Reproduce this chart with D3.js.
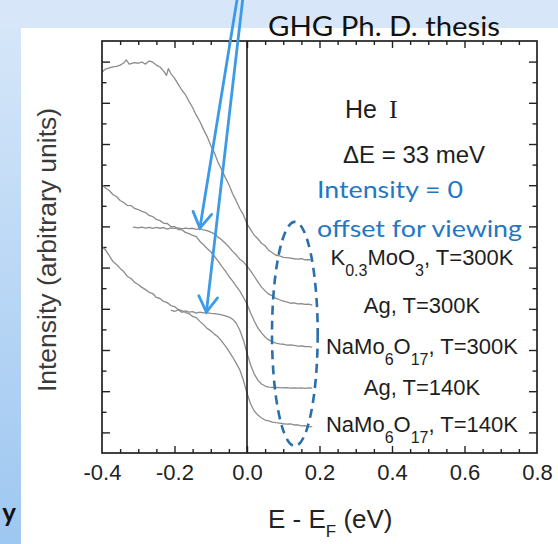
<!DOCTYPE html>
<html><head><meta charset="utf-8">
<script src="https://cdn.jsdelivr.net/npm/d3@7"></script>
<style>body{margin:0;background:#fff;} svg{display:block;}</style>
</head><body>
<svg id="c" width="558" height="544"></svg>
<script>
// ---- data ----
const xTicks = [-0.4, -0.2, 0.0, 0.2, 0.4, 0.6, 0.8];
const xTickLabels = ["-0.4", "-0.2", "0.0", "0.2", "0.4", "0.6", "0.8"];
const yMajorTicks = [1, 3, 5, 7, 9, 11, 13, 15, 17, 19];
const yMinorTicks = [2, 4, 6, 8, 10, 12, 14, 16, 18];

// E - EF (eV), intensity (arb. units, offset)
const k03MoO3_300K = [[-0.40,18.50],[-0.39,18.64],[-0.38,18.69],[-0.37,18.74],[-0.36,18.77],[-0.35,18.83],[-0.34,18.93],[-0.333,19.08],[-0.325,18.88],[-0.31,18.95],[-0.30,18.92],[-0.29,18.98],[-0.28,18.88],[-0.27,19.03],[-0.26,18.97],[-0.25,18.83],[-0.24,18.74],[-0.23,18.54],[-0.222,18.33],[-0.217,18.66],[-0.21,18.42],[-0.20,18.20],[-0.19,17.91],[-0.18,17.62],[-0.17,17.40],[-0.16,17.07],[-0.15,16.77],[-0.14,16.40],[-0.13,16.09],[-0.12,15.71],[-0.11,15.36],[-0.10,14.93],[-0.09,14.58],[-0.08,14.11],[-0.07,13.76],[-0.06,13.38],[-0.05,13.03],[-0.04,12.60],[-0.03,12.25],[-0.02,11.87],[-0.01,11.57],[0.00,11.12],[0.01,10.84],[0.02,10.57],[0.03,10.40],[0.04,10.18],[0.05,10.06],[0.06,9.84],[0.07,9.72],[0.08,9.60],[0.09,9.57],[0.10,9.50],[0.11,9.48],[0.12,9.46],[0.13,9.43],[0.14,9.41],[0.15,9.43],[0.16,9.38],[0.17,9.39],[0.18,9.36]];
const ag_300K = [[-0.315,10.97],[-0.30,10.93],[-0.29,10.97],[-0.28,10.92],[-0.27,10.95],[-0.26,10.90],[-0.25,10.95],[-0.24,10.91],[-0.23,10.94],[-0.22,10.87],[-0.21,10.93],[-0.20,10.90],[-0.19,10.93],[-0.18,10.88],[-0.17,10.92],[-0.16,10.89],[-0.15,10.91],[-0.14,10.86],[-0.13,10.89],[-0.12,10.83],[-0.11,10.79],[-0.10,10.72],[-0.09,10.64],[-0.08,10.48],[-0.07,10.35],[-0.06,10.18],[-0.05,10.01],[-0.04,9.80],[-0.03,9.62],[-0.02,9.41],[-0.01,9.28],[0.00,9.07],[0.01,8.84],[0.02,8.58],[0.03,8.31],[0.04,8.05],[0.05,7.87],[0.06,7.71],[0.07,7.63],[0.08,7.51],[0.09,7.44],[0.10,7.37],[0.11,7.34],[0.12,7.27],[0.13,7.29],[0.14,7.24],[0.15,7.25],[0.16,7.21],[0.17,7.23],[0.18,7.18]];
const naMo6O17_300K = [[-0.40,13.01],[-0.39,12.86],[-0.38,12.74],[-0.37,12.55],[-0.36,12.45],[-0.35,12.26],[-0.34,12.16],[-0.33,12.02],[-0.32,12.01],[-0.31,11.87],[-0.30,11.82],[-0.29,11.73],[-0.28,11.67],[-0.27,11.53],[-0.26,11.48],[-0.25,11.34],[-0.24,11.28],[-0.23,11.15],[-0.22,11.14],[-0.21,11.00],[-0.20,10.99],[-0.19,10.85],[-0.18,10.84],[-0.17,10.71],[-0.16,10.65],[-0.15,10.56],[-0.14,10.50],[-0.13,10.28],[-0.12,10.11],[-0.11,9.93],[-0.10,9.77],[-0.09,9.55],[-0.08,9.33],[-0.07,9.07],[-0.06,8.84],[-0.05,8.58],[-0.04,8.36],[-0.03,8.10],[-0.02,7.87],[-0.01,7.56],[0.00,7.23],[0.01,6.80],[0.02,6.41],[0.03,6.07],[0.04,5.83],[0.05,5.63],[0.06,5.49],[0.07,5.40],[0.08,5.33],[0.09,5.30],[0.10,5.28],[0.11,5.24],[0.12,5.25],[0.13,5.22],[0.14,5.19],[0.15,5.20],[0.16,5.17],[0.17,5.16],[0.18,5.14]];
const ag_140K = [[-0.21,6.94],[-0.20,6.87],[-0.19,6.95],[-0.18,6.83],[-0.17,6.90],[-0.16,6.84],[-0.15,6.86],[-0.14,6.79],[-0.13,6.84],[-0.12,6.80],[-0.11,6.81],[-0.10,6.78],[-0.09,6.77],[-0.08,6.74],[-0.07,6.71],[-0.06,6.66],[-0.05,6.60],[-0.04,6.50],[-0.03,6.31],[-0.02,5.97],[-0.01,5.49],[0.00,4.85],[0.01,4.27],[0.02,3.83],[0.03,3.54],[0.04,3.35],[0.05,3.25],[0.06,3.20],[0.07,3.19],[0.08,3.18],[0.09,3.17],[0.10,3.16],[0.11,3.17],[0.12,3.15],[0.13,3.16],[0.14,3.15],[0.15,3.16],[0.16,3.14],[0.17,3.16],[0.18,3.15]];
const naMo6O17_140K = [[-0.40,10.00],[-0.39,9.85],[-0.38,9.58],[-0.37,9.30],[-0.36,9.15],[-0.35,8.96],[-0.34,8.81],[-0.33,8.57],[-0.32,8.47],[-0.31,8.28],[-0.30,8.18],[-0.29,8.04],[-0.28,7.93],[-0.27,7.80],[-0.26,7.74],[-0.25,7.55],[-0.24,7.50],[-0.23,7.36],[-0.22,7.30],[-0.21,7.16],[-0.20,7.11],[-0.19,6.97],[-0.18,6.91],[-0.17,6.82],[-0.16,6.77],[-0.15,6.63],[-0.14,6.57],[-0.13,6.39],[-0.12,6.23],[-0.11,6.05],[-0.10,5.93],[-0.09,5.77],[-0.08,5.64],[-0.07,5.43],[-0.06,5.20],[-0.05,4.94],[-0.04,4.67],[-0.03,4.36],[-0.02,4.04],[-0.01,3.54],[0.00,2.91],[0.01,2.38],[0.02,2.04],[0.03,1.84],[0.04,1.70],[0.05,1.60],[0.06,1.56],[0.07,1.50],[0.08,1.47],[0.09,1.45],[0.10,1.42],[0.11,1.40],[0.12,1.41],[0.13,1.36],[0.14,1.37],[0.15,1.32],[0.16,1.33],[0.17,1.27],[0.18,1.28]];

const seriesList = [k03MoO3_300K, ag_300K, naMo6O17_300K, ag_140K, naMo6O17_140K];
const seriesLabels = [
  [["K",0],["0.3",1],["MoO",0],["3",1],[", T=300K",0]],
  [["Ag, T=300K",0]],
  [["NaMo",0],["6",1],["O",0],["17",1],[", T=300K",0]],
  [["Ag, T=140K",0]],
  [["NaMo",0],["6",1],["O",0],["17",1],[", T=140K",0]]
];
// annotation anchors (data coords): arrow tails (above plot) and tips
const arrows = [[[-0.022,22.6],[-0.130,10.92]],[[-0.008,22.6],[-0.112,6.84]]];
const ellipseSpec = {cx:0.132, cy:5.78, rx:0.063, ry:5.44};

// ---- drawing ----
const W = 558, H = 544;
const svg = d3.select("#c");
const x = d3.scaleLinear().domain([-0.4, 0.8]).range([102, 537]);
const y = d3.scaleLinear().domain([0, 20]).range([453, 41]);
const sans = "'Liberation Sans', Arimo, Arial, Helvetica, sans-serif";

const defs = svg.append("defs");
const lg = defs.append("linearGradient").attr("id","bg").attr("x1",0).attr("y1",0).attr("x2",0).attr("y2",1);
lg.append("stop").attr("offset",0).attr("stop-color","#d8e8f9");
lg.append("stop").attr("offset",1).attr("stop-color","#9ec7f1");
svg.append("rect").attr("width",W).attr("height",H).attr("fill","url(#bg)");
svg.append("rect").attr("x",0).attr("y",0).attr("width",W).attr("height",28).attr("fill","#d7e7f9");
svg.append("rect").attr("x",21).attr("y",28).attr("width",W-21).attr("height",H-28).attr("fill","#ffffff");

// bold partial slide text at bottom-left
svg.append("text").attr("x",16).attr("y",522).attr("text-anchor","end")
  .attr("font-family","Lato, 'Open Sans', sans-serif").attr("font-weight","bold").attr("font-size",26)
  .attr("fill","#111").text("y");

// axes ticks
const xMajor = xTicks.filter(v => v > -0.4 && v < 0.8);
const xMinor = d3.range(-0.35, 0.8, 0.05).map(v => +v.toFixed(2)).filter(v => !xTicks.some(t => Math.abs(t - v) < 1e-6));
function axis(gen, tr, vals, size) {
  const g = svg.append("g").attr("transform", tr)
    .call(gen.tickValues(vals).tickSize(size).tickSizeOuter(0).tickFormat(""));
  g.select(".domain").remove();
  g.selectAll("line").attr("stroke","#222").attr("stroke-width",1.4);
}
axis(d3.axisBottom(x), "translate(0,453)", xMajor, -7);
axis(d3.axisBottom(x), "translate(0,453)", xMinor, -4);
axis(d3.axisTop(x), "translate(0,41)", xMajor, -7);
axis(d3.axisTop(x), "translate(0,41)", xMinor, -4);
axis(d3.axisLeft(y), "translate(102,0)", yMajorTicks, -8);
axis(d3.axisLeft(y), "translate(102,0)", yMinorTicks, -4.5);
axis(d3.axisRight(y), "translate(537,0)", yMajorTicks, -8);
axis(d3.axisRight(y), "translate(537,0)", yMinorTicks, -4.5);

// tick labels
const lab = svg.append("g").attr("transform","translate(0,453)")
  .call(d3.axisBottom(x).tickValues(xTicks).tickFormat((d,i) => xTickLabels[i]).tickSize(0).tickSizeOuter(0));
lab.select(".domain").remove();
lab.selectAll("text").attr("y",27).attr("dy",0)
  .attr("font-family",sans).attr("font-size",22).attr("fill","#222");

// curves
const line = d3.line().x(d => x(d[0])).y(d => y(d[1]));
svg.append("g").selectAll("path").data(seriesList).join("path")
  .attr("d", line).attr("fill","none").attr("stroke","#8c8c8c").attr("stroke-width",1.3)
  .attr("stroke-linejoin","round");

// zero line and frame
svg.append("line").attr("x1",x(0)).attr("x2",x(0)).attr("y1",y(20)).attr("y2",y(0))
  .attr("stroke","#1a1a1a").attr("stroke-width",1.6);
svg.append("rect").attr("x",x(-0.4)).attr("y",y(20)).attr("width",x(0.8)-x(-0.4)).attr("height",y(0)-y(20))
  .attr("fill","none").attr("stroke","#222").attr("stroke-width",1.7);

// axis titles
svg.append("text").attr("transform","translate(56,250) rotate(-90)").attr("text-anchor","middle")
  .attr("font-family",sans).attr("font-size",26.5).attr("fill","#3a3a3a")
  .text("Intensity (arbitrary units)");
const xt = svg.append("text").attr("x",268).attr("y",528)
  .attr("font-family",sans).attr("font-size",26).attr("fill","#222");
xt.append("tspan").text("E - E");
xt.append("tspan").attr("font-size",17).attr("dy",9).text("F");
xt.append("tspan").attr("dy",-9).text(" (eV)");

// series labels
const labelY = [265, 313, 354, 395, 432];
seriesLabels.forEach((parts, i) => {
  const t = svg.append("text").attr("x",422).attr("y",labelY[i]).attr("text-anchor","middle")
    .attr("font-family",sans).attr("font-size",22).attr("fill","#1e1e1e");
  let sub = false;
  parts.forEach(([s, isSub]) => {
    const ts = t.append("tspan").text(s);
    if (isSub && !sub) { ts.attr("font-size",16).attr("dy",11); sub = true; }
    else if (!isSub && sub) { ts.attr("dy",-11); sub = false; }
    else if (isSub) ts.attr("font-size",16);
  });
});

// He I and ΔE
const he = svg.append("text").attr("x",345).attr("y",118)
  .attr("font-family",sans).attr("font-size",25).attr("fill","#1e1e1e");
he.append("tspan").text("He");
he.append("tspan").attr("x",389).attr("font-family","'Liberation Serif', 'DejaVu Serif', serif").attr("font-size",26).text("I");
svg.append("text").attr("x",343).attr("y",163)
  .attr("font-family",sans).attr("font-size",24).attr("fill","#1e1e1e")
  .text("ΔE = 33 meV");

// blue annotations
const gill = "Lato, 'Open Sans', sans-serif";
svg.append("text").attr("x",317).attr("y",198).attr("font-family",gill).attr("font-size",23)
  .attr("fill","#1f78c4").attr("textLength",146).attr("lengthAdjust","spacingAndGlyphs").text("Intensity = 0");
svg.append("text").attr("x",317).attr("y",237).attr("font-family",gill).attr("font-size",23)
  .attr("fill","#1f78c4").attr("textLength",205).attr("lengthAdjust","spacingAndGlyphs").text("offset for viewing");
svg.append("text").attr("x",268).attr("y",36).attr("font-family",gill).attr("font-size",27)
  .attr("fill","#111").attr("textLength",232).attr("lengthAdjust","spacingAndGlyphs").text("GHG Ph. D. thesis");

// dashed ellipse
svg.append("ellipse").attr("cx",x(ellipseSpec.cx)).attr("cy",y(ellipseSpec.cy))
  .attr("rx",x(ellipseSpec.cx+ellipseSpec.rx)-x(ellipseSpec.cx)).attr("ry",y(ellipseSpec.cy-ellipseSpec.ry)-y(ellipseSpec.cy))
  .attr("fill","none").attr("stroke","#2b6ea8").attr("stroke-width",2.6).attr("stroke-dasharray","9,6");

// arrows
const ag = svg.append("g").attr("stroke","#3c9ae6").attr("stroke-width",2.8).attr("fill","none").attr("stroke-linecap","round");
arrows.forEach(([tail, tip]) => {
  const x0 = x(tail[0]), y0 = y(tail[1]), x1 = x(tip[0]), y1 = y(tip[1]);
  ag.append("line").attr("x1",x0).attr("y1",y0).attr("x2",x1).attr("y2",y1);
  const ang = Math.atan2(y1 - y0, x1 - x0), L = 18, spread = 0.55;
  const p = a => [x1 - L*Math.cos(a), y1 - L*Math.sin(a)];
  const a1 = p(ang - spread), a2 = p(ang + spread);
  ag.append("path").attr("d", `M${a1[0]},${a1[1]}L${x1},${y1}L${a2[0]},${a2[1]}`).attr("stroke-linejoin","miter");
});
</script>
</body></html>
